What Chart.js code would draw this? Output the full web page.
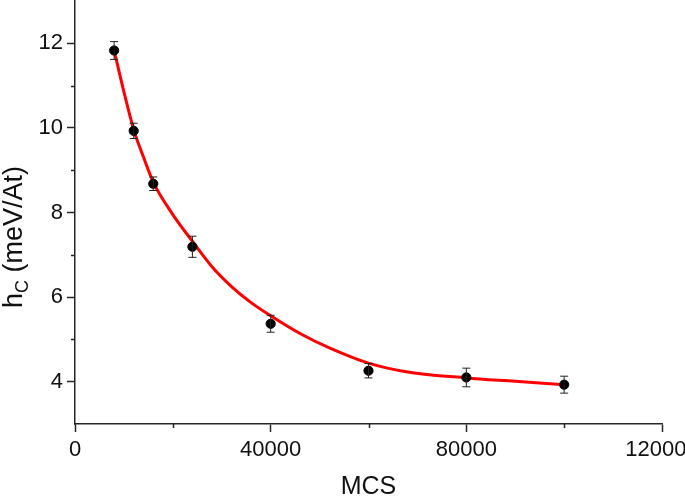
<!DOCTYPE html>
<html>
<head>
<meta charset="utf-8">
<script src="https://cdn.jsdelivr.net/npm/chart.js@4.4.1/dist/chart.umd.min.js"></script>
<style>
  html, body { margin: 0; padding: 0; background: #fff; overflow: hidden; width: 685px; height: 496px; }
  canvas { display: block; }
</style>
</head>
<body>
<canvas id="hcChart" width="700" height="496"></canvas>
<script>
// measured points (MCS vs h_C) + error bars
const mcs = [8000, 12000, 16000, 24000, 40000, 60000, 80000, 100000];
const hc = [11.83, 9.93, 8.68, 7.19, 5.37, 4.26, 4.10, 3.93];
const hcErr = [0.21, 0.18, 0.16, 0.25, 0.20, 0.17, 0.22, 0.20];

// red fit curve
const fitX = [8000, 10000, 12000, 14000, 16000, 20000, 24000, 28000, 32000, 36000,
  40000, 46000, 52000, 60000, 68000, 80000, 90000, 100000];
const fitY = [11.83, 10.85, 9.96, 9.31, 8.72, 7.95, 7.32, 6.72, 6.25, 5.87,
  5.56, 5.14, 4.80, 4.44, 4.23, 4.09, 4.01, 3.93];

// ticks
const xTicks = [0, 20000, 40000, 60000, 80000, 100000, 120000];
const xMajor = [0, 40000, 80000, 120000];
const yTicks = [4, 5, 6, 7, 8, 9, 10, 11, 12];
const yMajor = [4, 6, 8, 10, 12];

const axisColor = "#262626";
const tickFont = { family: "'Liberation Sans', Arial, sans-serif", size: 22 };

// error bars, minor ticks and axis titles
const extras = {
  id: "extras",
  afterDatasetsDraw(chart) {
    const { ctx, scales } = chart;
    const x = scales.x, y = scales.y;
    ctx.save();
    ctx.strokeStyle = "#222";
    ctx.lineWidth = 1;
    mcs.forEach((v, i) => {
      const px = x.getPixelForValue(v);
      const top = y.getPixelForValue(hc[i] + hcErr[i]);
      const bot = y.getPixelForValue(hc[i] - hcErr[i]);
      ctx.beginPath();
      ctx.moveTo(px, top); ctx.lineTo(px, bot);
      ctx.moveTo(px - 4, top); ctx.lineTo(px + 4, top);
      ctx.moveTo(px - 4, bot); ctx.lineTo(px + 4, bot);
      ctx.stroke();
    });
    ctx.restore();
  },
  afterDraw(chart) {
    const { ctx, scales, chartArea } = chart;
    const x = scales.x, y = scales.y;
    ctx.save();
    // minor ticks (shorter)
    ctx.strokeStyle = axisColor;
    ctx.lineWidth = 1.5;
    ctx.beginPath();
    xTicks.filter((v) => !xMajor.includes(v)).forEach((v) => {
      const px = Math.round(x.getPixelForValue(v)) + 0.5;
      ctx.moveTo(px, chartArea.bottom); ctx.lineTo(px, chartArea.bottom + 4);
    });
    yTicks.filter((v) => !yMajor.includes(v)).forEach((v) => {
      const py = Math.round(y.getPixelForValue(v)) + 0.5;
      ctx.moveTo(chartArea.left, py); ctx.lineTo(chartArea.left - 4, py);
    });
    ctx.stroke();

    // x title
    ctx.fillStyle = "#111";
    ctx.font = "25px 'Liberation Sans', Arial, sans-serif";
    ctx.textAlign = "center";
    ctx.textBaseline = "alphabetic";
    ctx.fillText("MCS", (chartArea.left + chartArea.right) / 2, 494);

    // y title: h with subscript C
    const big = "27px 'Liberation Sans', Arial, sans-serif";
    const small = "18px 'Liberation Sans', Arial, sans-serif";
    ctx.translate(22, 237);
    ctx.rotate(-Math.PI / 2);
    ctx.textAlign = "left";
    ctx.font = big;
    const wH = ctx.measureText("h").width;
    const wRest = ctx.measureText(" (meV/At)").width;
    ctx.font = small;
    const wC = ctx.measureText("C").width;
    let cx = -(wH + wC + wRest) / 2;
    ctx.font = big;
    ctx.fillText("h", cx, 0);
    cx += wH;
    ctx.font = small;
    ctx.fillText("C", cx, 6);
    cx += wC;
    ctx.font = big;
    ctx.fillText(" (meV/At)", cx, 0);
    ctx.restore();
  },
};

new Chart(document.getElementById("hcChart"), {
  type: "scatter",
  data: {
    datasets: [
      {
        label: "data",
        data: mcs.map((v, i) => ({ x: v, y: hc[i] })),
        backgroundColor: "#000",
        borderColor: "#000",
        pointRadius: 4.6,
        pointHoverRadius: 4.6,
        order: 1,
      },
      {
        label: "fit",
        data: fitX.map((v, i) => ({ x: v, y: fitY[i] })),
        showLine: true,
        borderColor: "#ff0000",
        borderWidth: 3,
        pointRadius: 0,
        cubicInterpolationMode: "monotone",
        order: 2,
      },
    ],
  },
  options: {
    responsive: false,
    animation: false,
    layout: { autoPadding: false, padding: { top: 1, right: 38, left: 0, bottom: 0 } },
    plugins: { legend: { display: false }, tooltip: { enabled: false } },
    scales: {
      x: {
        type: "linear",
        min: 0,
        max: 120000,
        afterBuildTicks: (s) => { s.ticks = xTicks.map((v) => ({ value: v })); },
        afterFit: (s) => { s.height = 72; s.paddingLeft = 0; s.paddingRight = 0; },
        ticks: {
          font: tickFont,
          color: "#111",
          padding: 5,
          maxRotation: 0,
          autoSkip: false,
          callback: (v) => (xMajor.includes(v) ? String(v) : ""),
        },
        grid: {
          drawOnChartArea: false,
          tickLength: 8,
          tickWidth: 1.5,
          tickColor: (c) => (c.tick && xMajor.includes(c.tick.value) ? axisColor : "rgba(0,0,0,0)"),
        },
        border: { color: axisColor, width: 1.5 },
      },
      y: {
        type: "linear",
        min: 3,
        max: 13,
        afterBuildTicks: (s) => { s.ticks = yTicks.map((v) => ({ value: v })); },
        afterFit: (s) => { s.width = 75; s.paddingTop = 0; s.paddingBottom = 0; },
        ticks: {
          font: tickFont,
          color: "#111",
          padding: 4,
          autoSkip: false,
          callback: (v) => (yMajor.includes(v) ? String(v) : ""),
        },
        grid: {
          drawOnChartArea: false,
          tickLength: 8,
          tickWidth: 1.5,
          tickColor: (c) => (c.tick && yMajor.includes(c.tick.value) ? axisColor : "rgba(0,0,0,0)"),
        },
        border: { color: axisColor, width: 1.5 },
      },
    },
  },
  plugins: [extras],
});
</script>
</body>
</html>
